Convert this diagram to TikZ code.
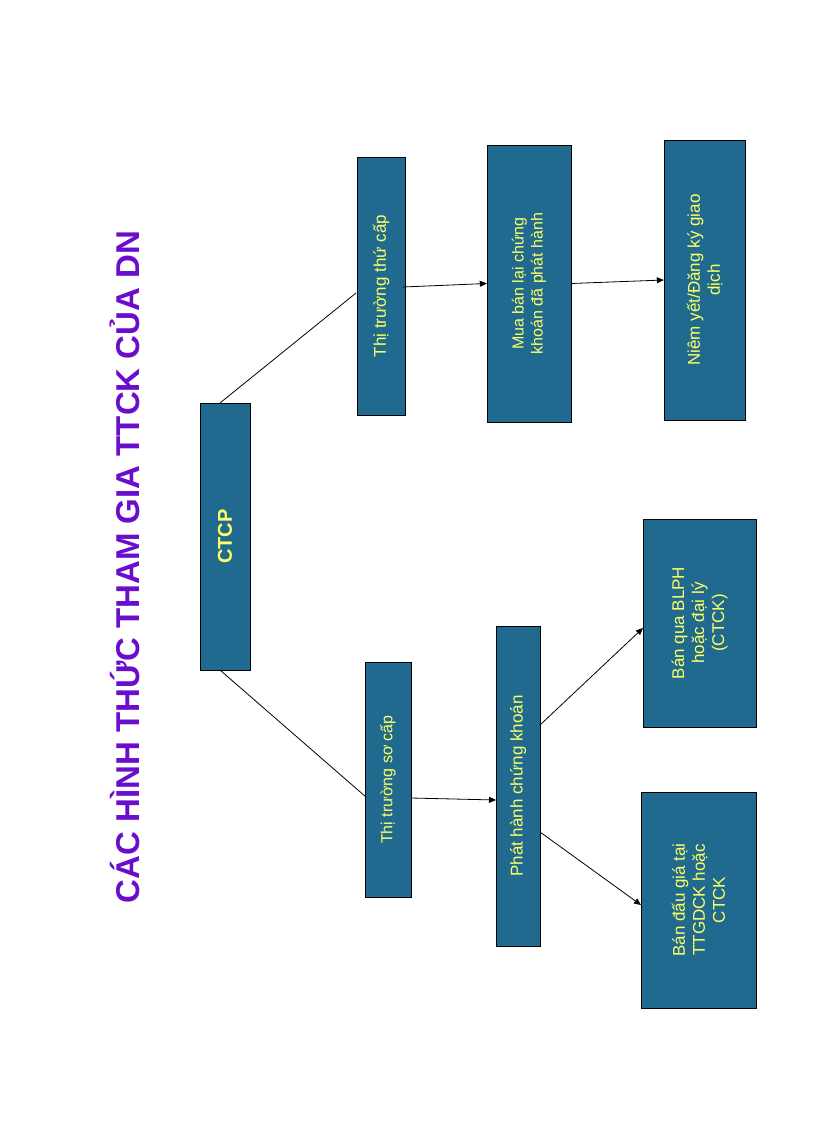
\documentclass[tikz,border=0pt]{standalone}
\usepackage{fontspec}
\setmainfont{Liberation Sans}
\usetikzlibrary{arrows.meta}
\definecolor{boxc}{HTML}{1F6A8E}
\definecolor{txt}{HTML}{FFFF66}
\definecolor{ttl}{HTML}{6A0DCC}
\tikzset{
 bx/.style={draw=black,fill=boxc,text=txt,rotate=90,align=center,inner sep=2pt,font=\fontsize{17}{20}\selectfont},
 ln/.style={draw=black,line width=0.8pt},
 ar/.style={ln,-{Triangle[length=7pt,width=6pt]}}
}
\begin{document}
\begin{tikzpicture}[x=1pt,y=-1pt]
\useasboundingbox (0,0) rectangle (816,1123);
\node[rotate=90,text=ttl,font=\bfseries\fontsize{33}{36}\selectfont] (title) at (125,567) {CÁC HÌNH THỨC THAM GIA TTCK CỦA DN};
% boxes: minimum width = vertical extent, minimum height = horizontal extent
\node[bx,minimum width=267,minimum height=50,font=\bfseries\fontsize{20}{22}\selectfont] (ctcp) at (225,536.5) {CTCP};
\node[bx,minimum width=258,minimum height=48] (ttc) at (381,286) {Thị trường thứ cấp};
\node[bx,minimum width=277,minimum height=84,font=\fontsize{16}{19}\selectfont] (mb) at (529,283.5) {Mua bán lại chứng\\khoán đã phát hành};
\node[bx,minimum width=280,minimum height=81] (ny) at (704.5,280) {Niêm yết/Đăng ký giao\\dịch};
\node[bx,minimum width=235,minimum height=46,font=\fontsize{16}{19}\selectfont] (tsc) at (388,779.5) {Thị trường sơ cấp};
\node[bx,minimum width=320,minimum height=44] (ph) at (518,786) {Phát hành chứng khoán};
\node[bx,minimum width=208,minimum height=113] (bq) at (699.5,623) {Bán qua BLPH\\hoặc đại lý\\(CTCK)};
\node[bx,minimum width=216,minimum height=115] (bd) at (698.5,900) {Bán đấu giá tại\\TTGDCK hoặc\\CTCK};
% connectors
\coordinate (c1) at (220,403); \coordinate (c2) at (356,293);
\coordinate (c3) at (220,670); \coordinate (c4) at (366,797);
\draw[ln] (c1) -- (c2);
\draw[ln] (c3) -- (c4);
\draw[ar] (403,287) -- (mb.north);
\draw[ar] (mb.south) -- (ny.north);
\draw[ar] (411,798) -- (496,800);
\draw[ar] (540,725) -- (643,628);
\draw[ar] (540,832) -- (641,905);
\end{tikzpicture}
\end{document}
